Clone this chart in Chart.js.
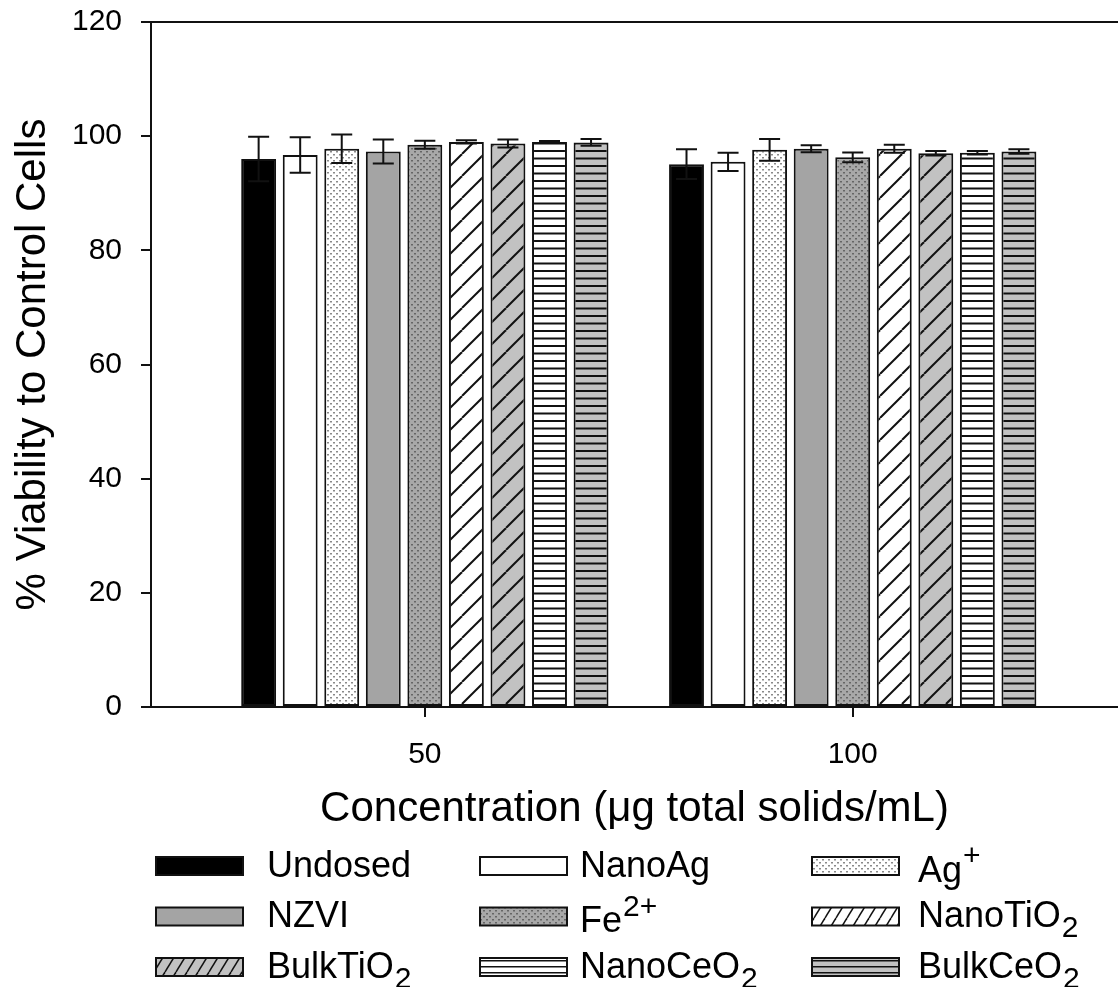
<!doctype html>
<html lang="en">
<head>
    <meta charset="UTF-8"/>
    <title>% Viability to Control Cells</title>
    <script src="https://cdn.jsdelivr.net/npm/chart.js@4.4.1/dist/chart.umd.min.js"></script>
    <style>
        body { margin: 0; background: #fff; }
        canvas { display: block; }
    </style>
</head>
<body>
<canvas id="viabilityChart" width="1118" height="987"></canvas>

<script>
    // Concentrations (µg total solids/mL) and the treatments, in bar order
    const concentrations = [50, 100];
    const treatments = ['Undosed', 'NanoAg', 'Ag^+', 'NZVI', 'Fe^2+', 'NanoTiO_2', 'BulkTiO_2', 'NanoCeO_2', 'BulkCeO_2'];

    // % viability, one value per treatment
    const viability50 = [96.0, 96.7, 97.8, 97.3, 98.5, 99.0, 98.7, 99.0, 98.9];
    const viability100 = [95.1, 95.5, 97.6, 97.8, 96.3, 97.8, 97.0, 97.1, 97.3];
    const error50 = [3.9, 3.1, 2.5, 2.1, 0.7, 0.3, 0.7, 0.15, 0.6];
    const error100 = [2.6, 1.6, 1.9, 0.6, 0.85, 0.7, 0.4, 0.3, 0.4];

    const yTicks = [0, 20, 40, 60, 80, 100, 120];

    const FONT = '"Liberation Sans", Arial, sans-serif';

    // fill styles for each treatment (solid, dotted, hatched)
    const fills = [
        {bg: '#000000'},
        {bg: '#ffffff'},
        {bg: '#ffffff', dots: '#8a8a8a'},
        {bg: '#a4a4a4'},
        {bg: '#a8a8a8', dots: '#666666'},
        {bg: '#ffffff', hatch: 'diag'},
        {bg: '#c2c2c2', hatch: 'diag'},
        {bg: '#ffffff', hatch: 'horiz'},
        {bg: '#c2c2c2', hatch: 'horiz'}
    ];

    function makeFill(f, small) {
        if (!f.dots && !f.hatch) return f.bg;
        const tile = document.createElement('canvas');
        let w, h;
        if (f.dots) { w = 6; h = 6; }
        else if (f.hatch === 'diag') { w = small ? 11 : 22; h = small ? 18 : 22; }
        else { w = 4; h = small ? 6 : 15; }
        tile.width = w;
        tile.height = h;
        const g = tile.getContext('2d');
        g.fillStyle = f.bg;
        g.fillRect(0, 0, w, h);
        if (f.dots) {
            g.fillStyle = f.dots;
            g.fillRect(0, 1, 2, 1.5);
            g.fillRect(3, 4, 2, 1.5);
        } else if (f.hatch === 'diag') {
            g.strokeStyle = '#111';
            g.lineWidth = small ? 1.5 : 2;
            [-w, 0, w].forEach(dx => {
                g.beginPath();
                g.moveTo(dx, h);
                g.lineTo(dx + w, 0);
                g.stroke();
            });
        } else {
            g.fillStyle = '#111';
            if (small) {
                g.fillRect(0, 0, w, 1.5);
            } else {
                g.fillRect(0, 0, w, 2);
                g.fillRect(0, 7.5, w, 2);
            }
        }
        return document.createElement('canvas').getContext('2d').createPattern(tile, 'repeat');
    }

    const barFills = fills.map(f => makeFill(f, false));
    const legendFills = fills.map(f => makeFill(f, true));

    const datasets = treatments.map((name, i) => ({
        label: name.replace(/[_^]/, ''),
        data: concentrations.map((c, k) => ({x: c, y: [viability50, viability100][k][i]})),
        errors: [error50[i], error100[i]],
        backgroundColor: barFills[i],
        borderColor: '#111',
        borderWidth: 2,
        borderSkipped: false,
        categoryPercentage: 0.874,
        barPercentage: 0.84
    }));

    // text with a trailing sub- or superscript, e.g. TiO_2 or Fe^2+
    function drawRich(ctx, text, x, y, size) {
        const m = text.match(/^([^_^]*)([_^])?(.*)$/);
        ctx.font = `${size}px ${FONT}`;
        ctx.textBaseline = 'middle';
        ctx.textAlign = 'left';
        ctx.fillStyle = '#000';
        const shift = m[2] === '^' ? 5 : 0;
        ctx.fillText(m[1], x, y + shift);
        if (m[2]) {
            const w = ctx.measureText(m[1]).width;
            ctx.font = `${Math.round(size * 0.82)}px ${FONT}`;
            const dy = m[2] === '_' ? size * 0.32 : -size * 0.42;
            ctx.fillText(m[3], x + w + 1, y + shift + dy);
        }
    }

    const errorBars = {
        id: 'errorBars',
        afterDatasetsDraw(chart) {
            const ctx = chart.ctx;
            const yScale = chart.scales.y;
            ctx.save();
            ctx.strokeStyle = '#111';
            ctx.lineWidth = 2;
            chart.data.datasets.forEach((ds, i) => {
                chart.getDatasetMeta(i).data.forEach((bar, j) => {
                    const v = ds.data[j].y, e = ds.errors[j];
                    const top = yScale.getPixelForValue(v + e);
                    const bot = yScale.getPixelForValue(v - e);
                    ctx.beginPath();
                    ctx.moveTo(bar.x, top);
                    ctx.lineTo(bar.x, bot);
                    ctx.moveTo(bar.x - 10.5, top);
                    ctx.lineTo(bar.x + 10.5, top);
                    ctx.moveTo(bar.x - 10.5, bot);
                    ctx.lineTo(bar.x + 10.5, bot);
                    ctx.stroke();
                });
            });
            ctx.restore();
        }
    };

    const frameTop = {
        id: 'frameTop',
        afterDraw(chart) {
            const {ctx, chartArea} = chart;
            ctx.save();
            ctx.strokeStyle = '#111';
            ctx.lineWidth = 2;
            ctx.beginPath();
            ctx.moveTo(chartArea.left - 1, chartArea.top);
            ctx.lineTo(chartArea.right, chartArea.top);
            ctx.stroke();
            ctx.restore();
        }
    };

    const blockLegend = {
        id: 'blockLegend',
        afterDraw(chart, args, opts) {
            const ctx = chart.ctx;
            ctx.save();
            treatments.forEach((name, i) => {
                const col = i % 3, row = Math.floor(i / 3);
                const x = opts.boxX[col];
                const y = opts.top + row * opts.rowGap;
                ctx.fillStyle = legendFills[i];
                ctx.fillRect(x, y, opts.boxW, opts.boxH);
                ctx.strokeStyle = '#111';
                ctx.lineWidth = 2;
                ctx.strokeRect(x, y, opts.boxW, opts.boxH);
                drawRich(ctx, name, opts.textX[col], y + opts.boxH / 2 + 1, opts.size);
            });
            ctx.restore();
        }
    };

    new Chart(document.getElementById('viabilityChart'), {
        type: 'bar',
        data: {datasets: datasets},
        plugins: [errorBars, frameTop, blockLegend],
        options: {
            responsive: false,
            animation: false,
            devicePixelRatio: 1,
            layout: {padding: {left: 0, right: 0, top: 22, bottom: 150}},
            plugins: {
                legend: {display: false},
                tooltip: {enabled: false},
                blockLegend: {
                    top: 857, rowGap: 50.5, boxW: 87, boxH: 18,
                    boxX: [156, 480, 812], textX: [267, 580, 918], size: 36
                }
            },
            scales: {
                x: {
                    type: 'linear',
                    min: 18,
                    max: 131,
                    offset: false,
                    afterBuildTicks: (scale) => {
                        scale.ticks = concentrations.map(v => ({value: v}));
                    },
                    afterFit: (scale) => {
                        scale.height = 130;
                        scale.paddingLeft = 0;
                        scale.paddingRight = 0;
                    },
                    ticks: {color: '#000', font: {family: FONT, size: 30}, padding: 20},
                    grid: {drawOnChartArea: false, offset: false, tickLength: 10, color: '#111', lineWidth: 2},
                    border: {color: '#111', width: 2},
                    title: {
                        display: true,
                        text: 'Concentration (μg total solids/mL)',
                        color: '#000',
                        font: {family: FONT, size: 42},
                        padding: {top: 0, bottom: 2}
                    }
                },
                y: {
                    min: 0,
                    max: 120,
                    afterBuildTicks: (scale) => {
                        scale.ticks = yTicks.map(v => ({value: v}));
                    },
                    afterFit: (scale) => {
                        scale.width = 151;
                        scale.paddingTop = 0;
                        scale.paddingBottom = 0;
                    },
                    ticks: {color: '#000', font: {family: FONT, size: 30}, padding: 19},
                    grid: {drawOnChartArea: false, tickLength: 10, color: '#111', lineWidth: 2},
                    border: {color: '#111', width: 2},
                    title: {
                        display: true,
                        text: '% Viability to Control Cells',
                        color: '#000',
                        font: {family: FONT, size: 42},
                        padding: {top: 8, bottom: 0}
                    }
                }
            }
        }
    });
</script>
</body>
</html>
